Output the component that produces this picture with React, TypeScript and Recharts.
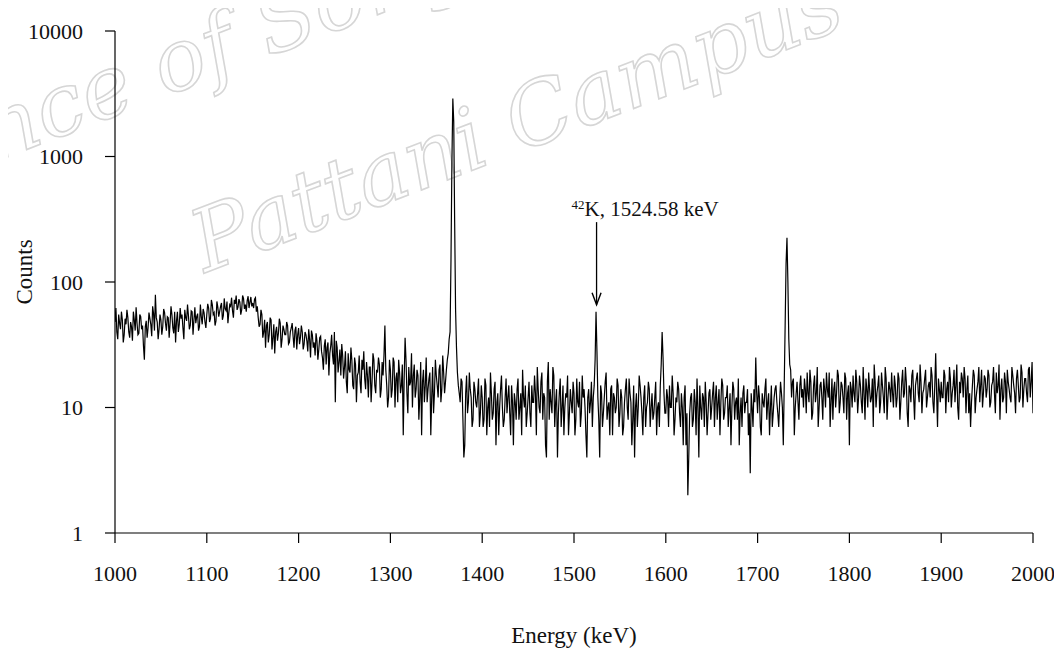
import React from 'react';
import { LineChart, Line, XAxis, YAxis, ReferenceLine, ReferenceDot, Label } from 'recharts';

// Spectrum: 1 keV channels from 1000 to 2000 keV.
// Even channels (1000, 1002, ... 2000) and odd channels (1001, 1003, ... 1999) read per 50 keV block.
const ENERGY_START = 1000;

const even1000 = [48, 40, 55, 42, 50, 38, 46, 52, 36, 44, 58, 41, 47, 39, 53, 45, 24, 49, 43, 51, 37, 56, 79, 48, 42];
const even1050 = [50, 44, 57, 41, 52, 47, 55, 39, 33, 58, 46, 51, 43, 60, 49, 54, 45, 58, 50, 47, 56, 44, 53, 61, 48];
const even1100 = [55, 62, 51, 66, 57, 49, 63, 58, 68, 54, 61, 70, 57, 64, 59, 72, 78, 63, 69, 60, 74, 66, 71, 62, 76];
const even1150 = [68, 73, 58, 52, 46, 55, 40, 30, 48, 38, 50, 36, 27, 44, 39, 47, 35, 42, 38, 45, 33, 43, 37, 41, 29];
const even1200 = [43, 36, 40, 32, 38, 28, 35, 41, 30, 26, 34, 29, 37, 25, 31, 22, 33, 27, 38, 22, 11, 30, 23, 18, 26];
const even1250 = [21, 16, 27, 19, 24, 14, 22, 18, 26, 13, 20, 17, 23, 12, 21, 16, 24, 13, 19, 22, 14, 18, 45, 15, 12];
const even1300 = [20, 14, 23, 17, 11, 19, 15, 6, 36, 13, 21, 16, 10, 22, 14, 18, 12, 6, 20, 15, 11, 17, 6, 21, 13];
const even1350 = [18, 12, 22, 14, 19, 16, 24, 35, 150, 2900, 300, 30, 15, 11, 16, 4, 13, 9, 19, 12, 8, 14, 10, 17, 9];
const even1400 = [12, 8, 15, 10, 7, 13, 9, 16, 11, 6, 14, 10, 8, 17, 12, 9, 15, 5, 11, 14, 8, 13, 20, 10, 7];
const even1450 = [12, 9, 15, 11, 13, 21, 10, 16, 8, 12, 4, 23, 14, 9, 18, 11, 4, 13, 7, 15, 10, 12, 6, 14, 9];
const even1500 = [13, 8, 11, 16, 9, 12, 10, 4, 14, 11, 7, 15, 58, 12, 4, 13, 9, 16, 8, 11, 14, 6, 12, 10, 15];
const even1550 = [9, 12, 7, 14, 10, 17, 11, 8, 4, 13, 10, 15, 9, 12, 7, 11, 14, 10, 8, 12, 6, 11, 15, 40, 13];
const even1600 = [9, 12, 15, 10, 13, 8, 11, 14, 7, 10, 12, 5, 2, 9, 13, 8, 11, 17, 4, 10, 13, 7, 11, 9, 14];
const even1650 = [10, 16, 12, 8, 14, 11, 15, 9, 12, 7, 13, 10, 14, 11, 8, 5, 12, 13, 9, 11, 6, 3, 10, 14, 25];
const even1700 = [9, 12, 6, 11, 14, 8, 13, 10, 7, 12, 15, 9, 11, 13, 5, 45, 225, 35, 20, 16, 6, 13, 11, 15, 12];
const even1750 = [10, 14, 19, 11, 16, 9, 18, 13, 7, 15, 12, 17, 10, 14, 19, 11, 8, 16, 13, 18, 11, 15, 9, 17, 13];
const even1800 = [5, 14, 18, 11, 16, 12, 15, 9, 13, 17, 10, 14, 12, 7, 16, 13, 18, 11, 15, 9, 17, 12, 14, 19, 10];
const even1850 = [15, 12, 17, 11, 20, 13, 16, 7, 14, 18, 12, 15, 19, 11, 16, 13, 17, 10, 15, 12, 18, 9, 27, 7, 14];
const even1900 = [16, 12, 18, 14, 11, 17, 13, 20, 15, 10, 16, 19, 12, 17, 14, 9, 7, 15, 18, 12, 16, 11, 20, 13, 17];
const even1950 = [14, 18, 11, 16, 13, 19, 15, 8, 17, 12, 16, 20, 14, 11, 18, 13, 17, 15, 12, 19, 14, 17, 11, 21, 16, 9];

const odd1000 = [62, 35, 47, 58, 33, 51, 60, 40, 48, 34, 50, 63, 38, 55, 42, 31, 44, 36, 57, 46, 64, 41, 52, 35, 55];
const odd1050 = [38, 61, 47, 53, 36, 64, 43, 58, 49, 40, 62, 55, 35, 52, 66, 42, 59, 38, 63, 53, 41, 66, 46, 57, 43];
const odd1100 = [67, 48, 72, 55, 45, 70, 53, 64, 50, 74, 59, 47, 66, 75, 52, 67, 60, 73, 55, 78, 61, 58, 77, 69, 64];
const odd1150 = [62, 75, 64, 44, 60, 36, 50, 45, 33, 52, 29, 46, 40, 34, 51, 30, 45, 38, 48, 32, 40, 47, 30, 44, 38];
const odd1200 = [32, 45, 29, 40, 34, 42, 25, 38, 33, 39, 24, 36, 28, 20, 35, 30, 18, 31, 26, 40, 34, 19, 29, 32, 17];
const odd1250 = [28, 13, 20, 30, 15, 25, 11, 19, 16, 24, 28, 14, 18, 21, 11, 27, 15, 20, 25, 12, 23, 26, 20, 10, 24];
const odd1300 = [12, 25, 10, 19, 24, 13, 22, 17, 24, 9, 15, 27, 18, 12, 20, 8, 23, 16, 11, 25, 14, 19, 12, 9, 24];
const odd1350 = [15, 20, 11, 26, 13, 20, 27, 40, 900, 1900, 60, 19, 13, 17, 8, 5, 18, 11, 14, 7, 16, 11, 13, 7, 15];
const odd1400 = [7, 17, 6, 12, 19, 8, 14, 5, 13, 10, 18, 7, 12, 9, 15, 6, 11, 13, 8, 17, 10, 6, 12, 15, 9];
const odd1450 = [16, 7, 11, 18, 6, 14, 9, 19, 13, 5, 16, 8, 11, 21, 7, 14, 9, 17, 10, 6, 13, 18, 9, 11, 16];
const odd1500 = [6, 17, 10, 7, 18, 14, 6, 12, 9, 16, 12, 24, 28, 8, 15, 7, 12, 19, 10, 6, 15, 13, 9, 17, 7];
const odd1550 = [14, 6, 11, 17, 8, 13, 5, 15, 10, 7, 18, 12, 6, 15, 10, 16, 7, 13, 9, 16, 10, 7, 22, 25, 9];
const odd1600 = [14, 7, 10, 18, 6, 12, 16, 9, 13, 5, 15, 9, 4, 12, 7, 14, 6, 10, 15, 8, 12, 16, 6, 13, 8];
const odd1650 = [13, 7, 15, 11, 6, 17, 8, 12, 15, 10, 5, 16, 8, 12, 17, 9, 7, 15, 11, 14, 9, 13, 7, 11, 13];
const odd1700 = [15, 7, 13, 10, 17, 11, 6, 15, 9, 14, 11, 7, 16, 10, 15, 140, 100, 22, 12, 17, 10, 16, 8, 18, 14];
const odd1750 = [17, 9, 13, 20, 8, 15, 11, 21, 10, 16, 8, 14, 19, 12, 7, 17, 14, 10, 20, 9, 16, 12, 19, 8, 15];
const odd1800 = [16, 10, 13, 20, 9, 18, 11, 21, 8, 14, 19, 11, 17, 22, 10, 15, 9, 19, 12, 21, 8, 16, 11, 13, 18];
const odd1850 = [10, 19, 8, 16, 12, 21, 9, 15, 11, 20, 8, 17, 13, 22, 9, 14, 20, 12, 16, 21, 11, 15, 13, 17, 11];
const odd1900 = [12, 20, 9, 16, 21, 10, 15, 11, 22, 8, 13, 17, 21, 9, 18, 13, 11, 20, 9, 14, 21, 15, 10, 18, 12];
const odd1950 = [20, 10, 15, 21, 9, 13, 22, 14, 11, 19, 9, 16, 12, 21, 15, 9, 20, 11, 22, 10, 17, 13, 20, 12, 23];

const EVEN_COUNTS = [
  ...even1000, ...even1050, ...even1100, ...even1150, ...even1200,
  ...even1250, ...even1300, ...even1350, ...even1400, ...even1450,
  ...even1500, ...even1550, ...even1600, ...even1650, ...even1700,
  ...even1750, ...even1800, ...even1850, ...even1900, ...even1950,
];
const ODD_COUNTS = [
  ...odd1000, ...odd1050, ...odd1100, ...odd1150, ...odd1200,
  ...odd1250, ...odd1300, ...odd1350, ...odd1400, ...odd1450,
  ...odd1500, ...odd1550, ...odd1600, ...odd1650, ...odd1700,
  ...odd1750, ...odd1800, ...odd1850, ...odd1900, ...odd1950,
];

const X_TICKS = [1000, 1100, 1200, 1300, 1400, 1500, 1600, 1700, 1800, 1900, 2000];
const Y_TICKS = [1, 10, 100, 1000, 10000];

// Annotation for the 42K line
const ANNOT_ENERGY = 1524.58;
const ANNOT_TIP = 66;
const ANNOT_TAIL = 300;
const ANNOT_TEXT_AT = 336;
const ANNOT_SUP = '42';
const ANNOT_TEXT = 'K, 1524.58 keV';

const data: { energy: number; counts: number }[] = [];
for (let i = 0; i < EVEN_COUNTS.length; i++) {
  data.push({ energy: ENERGY_START + 2 * i, counts: EVEN_COUNTS[i] });
  if (i < ODD_COUNTS.length) {
    data.push({ energy: ENERGY_START + 2 * i + 1, counts: ODD_COUNTS[i] });
  }
}

const FONT = '"Liberation Serif", "Times New Roman", serif';

const Watermark = () => (
  <svg
    width={1062}
    height={655}
    style={{ position: 'absolute', left: -8, top: -8, zIndex: 0, pointerEvents: 'none' }}
  >
    <g
      fill="none"
      stroke="#d6d6d6"
      strokeWidth={1.6}
      fontFamily='"DejaVu Serif", serif'
      fontStyle="italic"
      fontSize={86}
    >
      <text x={-123} y={207} transform="rotate(-21 -123 207)">Prince of Songkla</text>
      <text x={205} y={273} transform="rotate(-21 205 273)">Pattani Campus</text>
    </g>
  </svg>
);

export default function App() {
  return (
    <div style={{ position: 'relative', width: 1050, height: 645 }}>
      <Watermark />
      <div style={{ position: 'relative', zIndex: 1 }}>
        <LineChart
          width={1050}
          height={645}
          data={data}
          margin={{ top: 23, right: 25, bottom: 0, left: 0 }}
        >
          <XAxis
            type="number"
            dataKey="energy"
            domain={[1000, 2000]}
            ticks={X_TICKS}
            allowDataOverflow
            height={120}
            tickSize={10}
            tickMargin={22}
            axisLine={{ stroke: '#000', strokeWidth: 1.2 }}
            tickLine={{ stroke: '#000', strokeWidth: 1.2 }}
            tick={{ fill: '#111', fontSize: 22, fontFamily: FONT }}
          >
            <Label
              value="Energy (keV)"
              position="insideBottom"
              offset={10}
              style={{ fill: '#111', fontSize: 23, fontFamily: FONT }}
            />
          </XAxis>
          <YAxis
            scale="log"
            domain={[1, 10000]}
            ticks={Y_TICKS}
            allowDataOverflow
            width={107}
            tickSize={10}
            tickMargin={22}
            axisLine={{ stroke: '#000', strokeWidth: 1.2 }}
            tickLine={{ stroke: '#000', strokeWidth: 1.2 }}
            tick={{ fill: '#111', fontSize: 22, fontFamily: FONT }}
          >
            <Label
              content={(props: any) => {
                const vb = props.viewBox || { x: 0, y: 23, width: 107, height: 502 };
                const cx = vb.x + 16;
                const cy = vb.y + vb.height / 2 - 10;
                return (
                  <text
                    x={cx}
                    y={cy}
                    transform={`rotate(-90 ${cx} ${cy})`}
                    textAnchor="middle"
                    dominantBaseline="central"
                    fill="#111"
                    fontSize={23}
                    fontFamily={FONT}
                  >
                    Counts
                  </text>
                );
              }}
            />
          </YAxis>
          <Line
            type="linear"
            dataKey="counts"
            stroke="#000"
            strokeWidth={1.2}
            dot={false}
            isAnimationActive={false}
          />
          <ReferenceLine
            segment={[
              { x: ANNOT_ENERGY, y: ANNOT_TAIL },
              { x: ANNOT_ENERGY, y: ANNOT_TIP },
            ]}
            stroke="#000"
            strokeWidth={1.3}
          />
          <ReferenceDot
            x={ANNOT_ENERGY}
            y={ANNOT_TIP}
            r={0}
            shape={(p: any) => (
              <path
                d={`M${p.cx - 4.5},${p.cy - 12} L${p.cx},${p.cy} L${p.cx + 4.5},${p.cy - 12}`}
                fill="none"
                stroke="#000"
                strokeWidth={1.4}
              />
            )}
          />
          <ReferenceDot
            x={ANNOT_ENERGY}
            y={ANNOT_TEXT_AT}
            r={0}
            shape={(p: any) => (
              <text x={p.cx - 25} y={p.cy} fill="#111" fontFamily={FONT}>
                <tspan fontSize={13} dy={-7}>{ANNOT_SUP}</tspan>
                <tspan fontSize={21} dy={7}>{ANNOT_TEXT}</tspan>
              </text>
            )}
          />
        </LineChart>
      </div>
    </div>
  );
}
